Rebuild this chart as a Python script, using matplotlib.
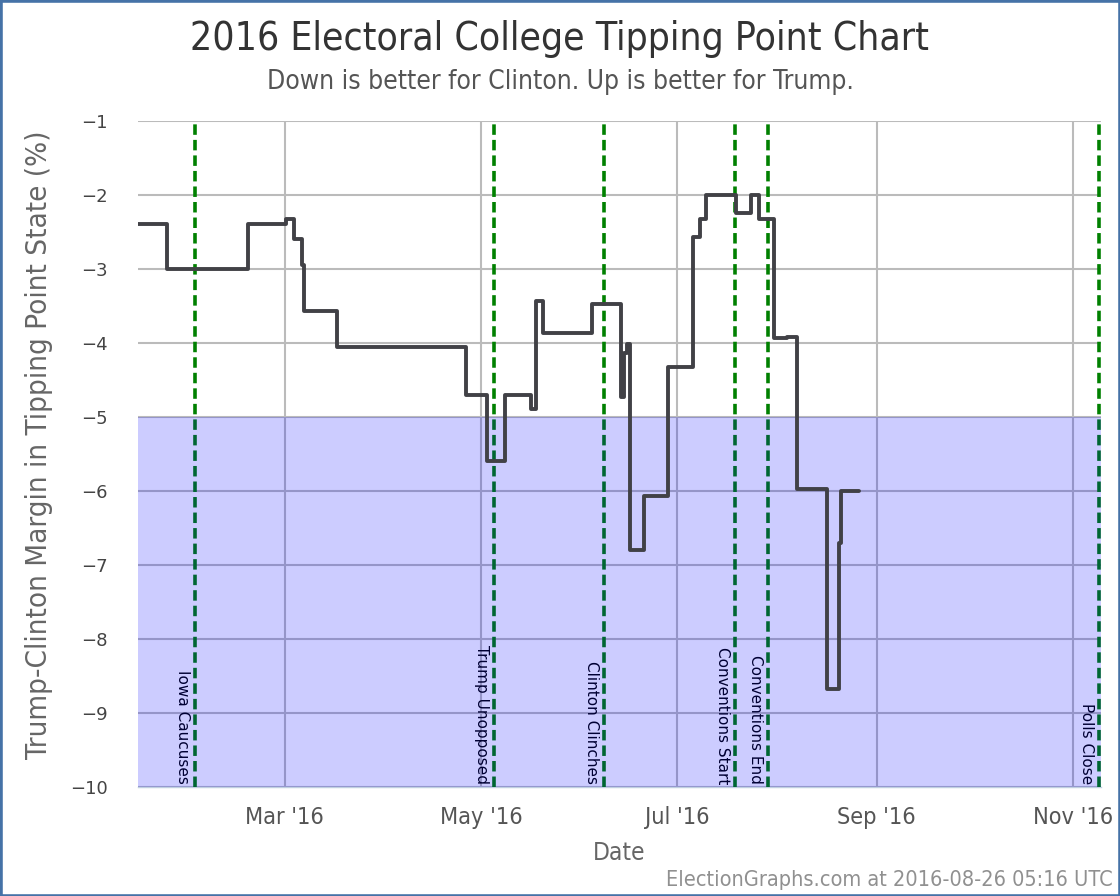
import matplotlib
matplotlib.use("Agg")
import matplotlib.pyplot as plt
import matplotlib.transforms as mtrans
from matplotlib.patches import Rectangle
from matplotlib.transforms import offset_copy
import pandas as pd

# ---------------- data ----------------
step_dates = [
    "2016-01-14 00:00", "2016-01-24 14:00", "2016-02-18 17:00", "2016-03-01 10:00",
    "2016-03-04 00:00", "2016-03-06 08:00", "2016-03-07 00:00", "2016-03-17 08:00",
    "2016-04-26 08:00", "2016-05-02 20:00", "2016-05-08 12:00", "2016-05-16 12:00",
    "2016-05-18 00:00", "2016-05-20 10:00", "2016-06-04 10:00", "2016-06-13 10:00",
    "2016-06-14 12:00", "2016-06-15 12:00", "2016-06-16 12:00", "2016-06-20 17:00",
    "2016-06-28 01:00", "2016-07-06 00:00", "2016-07-08 00:00", "2016-07-09 22:00",
    "2016-07-19 05:00", "2016-07-23 22:00", "2016-07-26 12:00", "2016-07-31 00:00",
    "2016-08-04 00:00", "2016-08-07 07:00", "2016-08-16 16:00", "2016-08-20 05:00",
    "2016-08-21 00:00",
]
step_values = [
    -2.40, -3.00, -2.40, -2.33,
    -2.60, -2.95, -3.57, -4.05,
    -4.70, -5.60, -4.70, -4.90,
    -3.44, -3.87, -3.48, -4.73,
    -4.14, -4.01, -6.80, -6.07,
    -4.33, -2.57, -2.33, -2.00,
    -2.25, -2.00, -2.33, -3.94,
    -3.92, -5.98, -8.67, -6.70,
    -6.00,
]
last_update = "2016-08-26 12:00"

event_dates = ["2016-02-01", "2016-05-04", "2016-06-07", "2016-07-18", "2016-07-28", "2016-11-08"]
event_labels = ["Iowa Caucuses", "Trump Unopposed", "Clinton Clinches",
                "Conventions Start", "Conventions End", "Polls Close"]

y_ticks = [-1, -2, -3, -4, -5, -6, -7, -8, -9, -10]
x_tick_dates = ["2016-03-01", "2016-05-01", "2016-07-01", "2016-09-01", "2016-11-01"]
x_tick_labels = ["Mar '16", "May '16", "Jul '16", "Sep '16", "Nov '16"]

title = "2016 Electoral College Tipping Point Chart"
subtitle = "Down is better for Clinton. Up is better for Trump."
x_label = "Date"
y_label = "Trump-Clinton Margin in Tipping Point State (%)"
credit = "ElectionGraphs.com at 2016-08-26 05:16 UTC"

# ---------------- figure ----------------
W, H = 1120, 896
fig = plt.figure(figsize=(W / 100, H / 100), dpi=100)
fig.patch.set_facecolor("white")
NARROW = dict(family="DejaVu Sans", fontstretch="condensed")

left, right, top, bottom = 138, 1101, 120.7, 787
ax = fig.add_axes([left / W, 1 - bottom / H, (right - left) / W, (bottom - top) / H])
ax.set_facecolor("white")

x = pd.to_datetime(step_dates + [last_update])
y = step_values + [step_values[-1]]
ax.plot(x, y, drawstyle="steps-post", color="#414146", lw=2.8, zorder=6,
        solid_joinstyle="round", solid_capstyle="round")

# clinton-favoured region shading (drawn over grid & event markers)
ax.axhspan(-10, -5, color=(0, 0, 1), alpha=0.2, lw=0, zorder=5)

ev_offset = pd.Timedelta(hours=27)
blend = mtrans.blended_transform_factory(ax.transData, ax.transAxes)
for d, lab in zip(event_dates, event_labels):
    xd = pd.Timestamp(d) + ev_offset
    ax.axvline(xd, color="#008000", lw=2.6, ls=(0, (2.9, 1.4)), zorder=3)
    tr = offset_copy(blend, fig=fig, x=-5, y=3, units="dots")
    ax.text(xd, 0, lab, transform=tr, rotation=270, ha="right", va="bottom",
            fontsize=11, color="black", family="DejaVu Sans", zorder=3)

ax.set_xlim(pd.Timestamp("2016-01-15 10:00"), pd.Timestamp("2016-11-09 18:00"))
ax.set_ylim(-10, -1)
ax.set_yticks(y_ticks)
ax.set_yticklabels([str(v).replace("-", "\u2212") for v in y_ticks],
                   color="#444444", fontsize=13, family="DejaVu Sans")
ax.set_xticks(pd.to_datetime(x_tick_dates))
ax.set_xticklabels(x_tick_labels, color="#555555", fontsize=15, **NARROW)
ax.tick_params(axis="both", length=0)
ax.tick_params(axis="y", pad=22)
ax.tick_params(axis="x", pad=14)
ax.set_axisbelow(True)
ax.grid(True, color="#bbbbbb", lw=1.5)
for s in ["left", "right", "top"]:
    ax.spines[s].set_visible(False)
ax.spines["bottom"].set_color("#c0d0e0")
ax.spines["bottom"].set_linewidth(1)

t_title = fig.text(560 / W, 1 - 50 / H, title, ha="center", va="baseline",
                   fontsize=28, color="#333333", **NARROW)
t_sub = fig.text(560 / W, 1 - 89 / H, subtitle, ha="center", va="baseline",
                 fontsize=16, color="#555555", **NARROW)
t_x = fig.text((left + right) / 2 / W, 1 - 853 / H, x_label, ha="center", va="center",
               fontsize=16, color="#666666", **NARROW)
t_y = fig.text(39 / W, 1 - 445 / H, y_label, ha="center", va="center", rotation=90,
               fontsize=16, color="#666666", **NARROW)
t_c = fig.text(1113 / W, 1 - 886 / H, credit, ha="right", va="baseline",
               fontsize=12, color="#909090", **NARROW)

fig.add_artist(Rectangle((0, 0), 1, 1, transform=fig.transFigure, fill=False,
                         edgecolor="#4572A7", lw=3.3, zorder=10))

# fit text widths to the reference layout
fig.canvas.draw()
r = fig.canvas.get_renderer()
for t, target, horiz in [(t_title, 738, True), (t_sub, 592, True), (t_x, 53, True),
                         (t_y, 630, False), (t_c, 446, True)]:
    bb = t.get_window_extent(renderer=r)
    cur = bb.width if horiz else bb.height
    t.set_fontsize(t.get_fontsize() * target / cur)
lab0 = ax.get_xticklabels()[0]
bb = lab0.get_window_extent(renderer=r)
fs = lab0.get_fontsize() * 79 / bb.width
for lab in ax.get_xticklabels():
    lab.set_fontsize(fs)

fig.savefig("out.png", dpi=100)
